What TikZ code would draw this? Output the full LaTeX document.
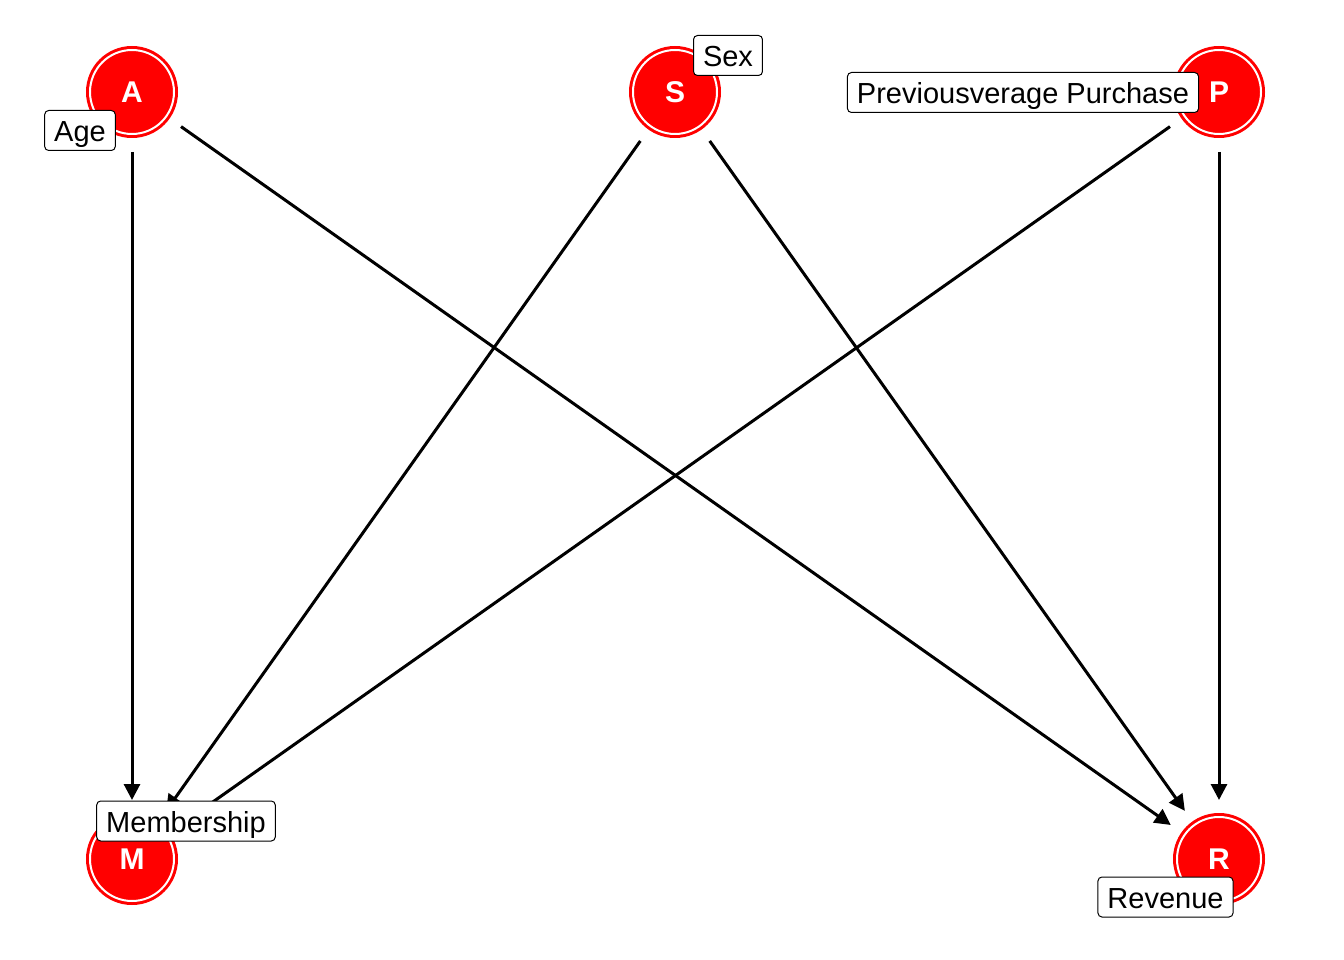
\documentclass[tikz,border=0pt]{standalone}
\usepackage{fontspec}
\setmainfont{Liberation Sans}
\usetikzlibrary{arrows.meta}
\tikzset{
  dagnode/.style={circle, fill=red, draw=red, line width=1pt, minimum size=91pt, inner sep=0pt,
    text=white, font=\fontsize{30}{33}\selectfont\bfseries,
    path picture={\draw[white, line width=2pt] (path picture bounding box.center) circle (42pt);}},
  daglabel/.style={draw=black, fill=white, rounded corners=4pt, line width=1pt,
    inner xsep=9.5pt, inner ysep=0pt, minimum height=0pt,
    text height=31.5pt, text depth=8.5pt, font=\fontsize{29}{32}\selectfont},
  dagedge/.style={line width=3pt, -{Triangle[length=16pt,width=16pt]},
    shorten <=60pt, shorten >=59pt}
}
\begin{document}
\begin{tikzpicture}[x=1pt, y=-1pt]
\useasboundingbox (0,0) rectangle (1344,960);
\coordinate (cA) at (132,92);
\coordinate (cS) at (675,92);
\coordinate (cP) at (1219,92);
\coordinate (cM) at (132,859);
\coordinate (cR) at (1219,859);
% edges
\draw[dagedge] (cA) -- (cM);
\draw[dagedge] (cA) -- (cR);
\draw[dagedge] (cS) -- (cM);
\draw[dagedge] (cS) -- (cR);
\draw[dagedge] (cP) -- (cM);
\draw[dagedge] (cP) -- (cR);
% nodes
\node[dagnode] (A) at (cA) {A};
\node[dagnode] (S) at (cS) {S};
\node[dagnode] (P) at (cP) {P};
\node[dagnode] (M) at (cM) {M};
\node[dagnode] (R) at (cR) {R};
% labels
\node[daglabel] (lA) at (80,130.5) {Age};
\node[daglabel] (lS) at (728,55.5) {Sex};
\node[daglabel] (lP) at (1023,92.5) {Previousverage Purchase};
\node[daglabel] (lM) at (186,821) {Membership};
\node[daglabel] (lR) at (1165.5,897) {Revenue};
\end{tikzpicture}
\end{document}
